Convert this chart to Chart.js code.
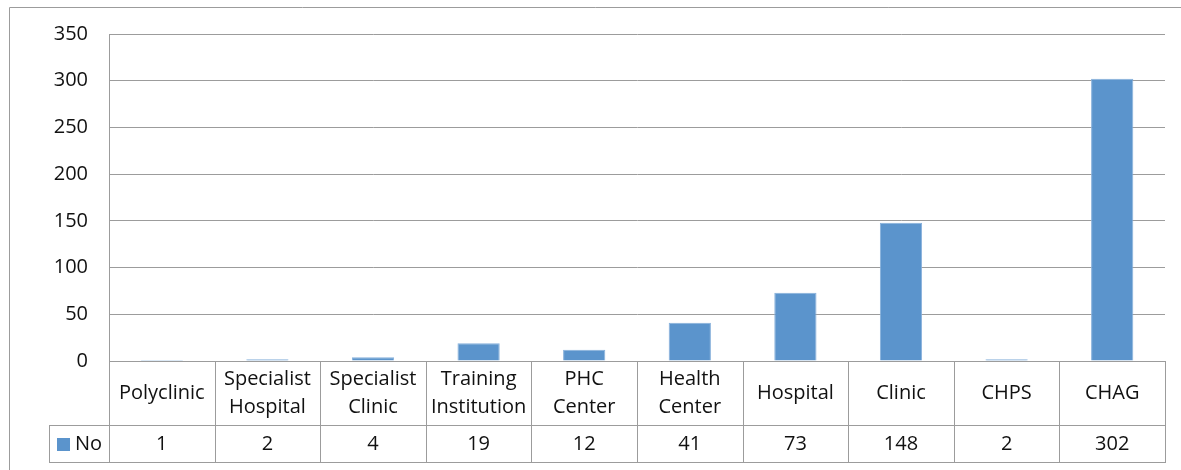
<!DOCTYPE html>
<html>
<head>
<meta charset="utf-8">
<script src="https://cdn.jsdelivr.net/npm/chart.js@4.4.0/dist/chart.umd.min.js"></script>
<style>
  html, body { margin: 0; padding: 0; background: #fff; }
  #wrap { width: 1181px; height: 470px; position: relative; }
</style>
</head>
<body>
<div id="wrap"><canvas id="facilityChart" width="1181" height="470"></canvas></div>
<script>
// Facility types (multi-line labels as shown in the data table)
const categories = [
    ['Polyclinic'],
    ['Specialist', 'Hospital'],
    ['Specialist', 'Clinic'],
    ['Training', 'Institution'],
    ['PHC', 'Center'],
    ['Health', 'Center'],
    ['Hospital'],
    ['Clinic'],
    ['CHPS'],
    ['CHAG']
];
const seriesName = 'No';
const counts = [1, 2, 4, 19, 12, 41, 73, 148, 2, 302];
const yTicks = [0, 50, 100, 150, 200, 250, 300, 350];

const BAR_COLOR = '#5b94cc';
const LINE_COLOR = '#9c9c9c';
const FONT = '"Open Sans", sans-serif';

Chart.defaults.font.family = FONT;
Chart.defaults.font.size = 20;
Chart.defaults.color = '#111';

// Draws the outer frame and the data table under the plot
const dataTablePlugin = {
    id: 'dataTable',
    afterDraw(chart) {
        const ctx = chart.ctx;
        const area = chart.chartArea;
        const n = categories.length;
        const step = (area.right - area.left) / n;
        const top = area.bottom;          // header row starts at the baseline
        const mid = top + 64;             // value row top
        const bottom = mid + 37;          // table bottom
        const keyLeft = 49;

        ctx.save();
        ctx.strokeStyle = LINE_COLOR;
        ctx.lineWidth = 1;

        // Outer chart frame (left and top edges)
        ctx.beginPath();
        ctx.moveTo(9.5, 470);
        ctx.lineTo(9.5, 7.5);
        ctx.lineTo(1181, 7.5);
        ctx.stroke();

        // Table horizontal lines
        ctx.beginPath();
        ctx.moveTo(area.left, top + 0.5);
        ctx.lineTo(area.right, top + 0.5);
        ctx.moveTo(keyLeft, mid + 0.5);
        ctx.lineTo(area.right, mid + 0.5);
        ctx.moveTo(keyLeft, bottom + 0.5);
        ctx.lineTo(area.right, bottom + 0.5);
        // Key cell left edge
        ctx.moveTo(keyLeft + 0.5, mid);
        ctx.lineTo(keyLeft + 0.5, bottom + 1);
        // Column separators
        for (let i = 0; i <= n; i++) {
            const x = Math.round(area.left + i * step) + 0.5;
            ctx.moveTo(x, top);
            ctx.lineTo(x, bottom + 1);
        }
        ctx.stroke();

        // Category names and values
        ctx.fillStyle = '#111';
        ctx.font = '20px ' + FONT;
        ctx.textAlign = 'center';
        ctx.textBaseline = 'middle';
        const xScale = chart.scales.x;
        categories.forEach((lines, i) => {
            const cx = xScale.getPixelForValue(i);
            const cy = top + 32;
            const lh = 28;
            lines.forEach((line, j) => {
                ctx.fillText(line, cx, cy + (j - (lines.length - 1) / 2) * lh);
            });
            ctx.fillText(String(counts[i]), cx, mid + 19);
        });

        // Legend key
        ctx.fillStyle = BAR_COLOR;
        ctx.fillRect(57, mid + 13, 13, 13);
        ctx.fillStyle = '#111';
        ctx.textAlign = 'left';
        ctx.fillText(seriesName, 75, mid + 19);
        ctx.restore();
    }
};

const ctx = document.getElementById('facilityChart').getContext('2d');
new Chart(ctx, {
    type: 'bar',
    data: {
        labels: categories,
        datasets: [{
            label: seriesName,
            data: counts,
            backgroundColor: BAR_COLOR,
            borderColor: '#86b0db',
            borderWidth: 1,
            categoryPercentage: 1,
            barPercentage: 0.4
        }]
    },
    options: {
        responsive: false,
        animation: false,
        layout: { padding: { top: 34, right: 16, bottom: 8, left: 0 } },
        plugins: {
            legend: { display: false },
            tooltip: { enabled: false }
        },
        scales: {
            x: {
                grid: { display: false },
                border: { display: false },
                ticks: { display: false },
                afterFit: s => { s.height = 101; }
            },
            y: {
                min: 0,
                max: 350,
                afterBuildTicks: s => { s.ticks = yTicks.map(v => ({ value: v })); },
                afterFit: s => { s.width = 109; },
                ticks: { padding: 21, color: '#111', font: { size: 20 } },
                grid: { color: LINE_COLOR, lineWidth: 1, drawTicks: false },
                border: { display: true, color: LINE_COLOR, width: 1 }
            }
        }
    },
    plugins: [dataTablePlugin]
});
</script>
</body>
</html>
